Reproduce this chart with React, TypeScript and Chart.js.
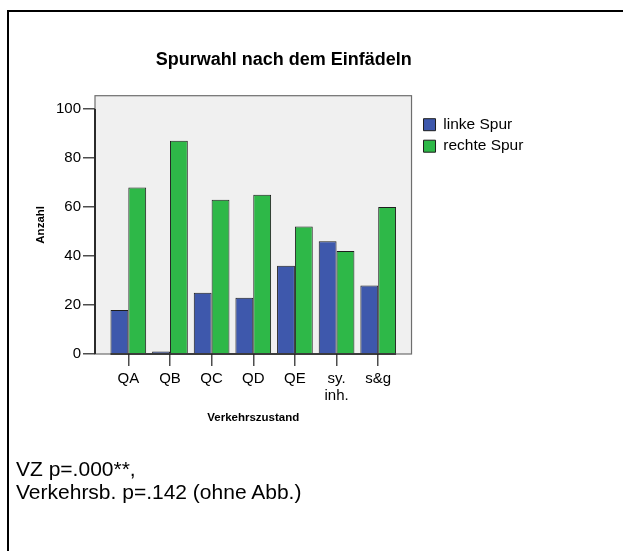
import React, { useEffect, useRef } from 'react';
import { Chart, registerables } from 'chart.js';

Chart.register(...registerables);

const FONT = "'Liberation Sans', Arial, Helvetica, sans-serif";

const CATEGORIES = ['QA', 'QB', 'QC', 'QD', 'QE', 'sy. inh.', 's&g'];
const LINKE_SPUR = [18, 1, 25, 23, 36, 46, 28];
const RECHTE_SPUR = [68, 87, 63, 65, 52, 42, 60];
const Y_TICKS = [0, 20, 40, 60, 80, 100];
const SERIES_NAMES = ['linke Spur', 'rechte Spur'];
const SERIES_COLORS = ['#3e58ac', '#2eb848'];
const TITLE = 'Spurwahl nach dem Einfädeln';
const X_TITLE = 'Verkehrszustand';
const Y_TITLE = 'Anzahl';
const FOOTER_LINES = ['VZ p=.000**,', 'Verkehrsb. p=.142 (ohne Abb.)'];

const plotDecor = {
  id: 'plotDecor',
  beforeDraw(chart: any) {
    const { ctx, chartArea: a } = chart;
    ctx.save();
    ctx.fillStyle = '#f0f0f0';
    ctx.fillRect(a.left, a.top, a.right - a.left, a.bottom - a.top);
    ctx.strokeStyle = '#6e6e6e';
    ctx.lineWidth = 1.2;
    ctx.strokeRect(a.left, a.top, a.right - a.left, a.bottom - a.top);
    ctx.restore();
  },
  afterDatasetsDraw(chart: any) {
    const { ctx, chartArea: a, scales } = chart;
    const y = scales.y;
    ctx.save();
    ctx.strokeStyle = '#2a2a2a';
    ctx.lineWidth = 2;
    ctx.beginPath();
    ctx.moveTo(a.left, y.getPixelForValue(Y_TICKS[0]));
    ctx.lineTo(a.left, y.getPixelForValue(Y_TICKS[Y_TICKS.length - 1]));
    ctx.stroke();
    const m0 = chart.getDatasetMeta(0).data;
    const m1 = chart.getDatasetMeta(1).data;
    if (m0.length && m1.length) {
      const first = m0[0];
      const last = m1[m1.length - 1];
      const x0 = first.x - first.width / 2;
      const x1 = last.x + last.width / 2;
      const yb = y.getPixelForValue(0);
      ctx.strokeStyle = '#1a1a1a';
      ctx.lineWidth = 1.5;
      ctx.beginPath();
      ctx.moveTo(x0, yb);
      ctx.lineTo(x1, yb);
      ctx.stroke();
    }
    ctx.restore();
  },
};

export default function App() {
  const ref = useRef<HTMLCanvasElement | null>(null);

  useEffect(() => {
    if (!ref.current) return;
    const tickFont = { family: FONT, size: 15, lineHeight: 1.15 };
    const titleFont = { family: FONT, size: 11.5, weight: 'bold' as const, lineHeight: 1.2 };
    const chart = new Chart(ref.current, {
      type: 'bar',
      data: {
        datasets: [LINKE_SPUR, RECHTE_SPUR].map((vals, k) => ({
          label: SERIES_NAMES[k],
          data: vals.map((v, i) => ({ x: i, y: v })),
          backgroundColor: SERIES_COLORS[k],
          borderColor: '#1e1e1e',
          borderWidth: 1,
          barPercentage: 1,
          categoryPercentage: 0.857,
        })),
      },
      options: {
        animation: false,
        responsive: false,
        devicePixelRatio: 1,
        layout: { padding: { left: 34, top: 49, right: 89.6, bottom: 117 } },
        plugins: {
          tooltip: { enabled: false },
          title: {
            display: true,
            text: TITLE,
            color: '#000',
            font: { family: FONT, size: 18, weight: 'bold', lineHeight: 1.2 },
            padding: { top: 0, bottom: 25.1 },
          },
          legend: {
            display: true,
            position: 'right',
            align: 'start',
            fullSize: false,
            title: { display: true, text: ' ', font: { size: 12, lineHeight: 1 }, padding: { top: 3.25, bottom: 0 } },
            labels: {
              boxWidth: 12,
              boxHeight: 12,
              padding: 6,
              color: '#000',
              font: { family: FONT, size: 15.5 },
            },
          },
        },
        scales: {
          x: {
            type: 'linear',
            position: 'bottom',
            offset: false,
            min: -0.8,
            max: CATEGORIES.length - 0.2,
            afterBuildTicks: (s: any) => {
              s.ticks = CATEGORIES.map((_, i) => ({ value: i }));
            },
            afterFit: (s: any) => {
              s.height = 80;
            },
            grid: { display: true, offset: false, drawOnChartArea: false, drawTicks: true, tickLength: 12, color: '#4d4d4d', lineWidth: 1.5 },
            border: { display: false },
            ticks: {
              autoSkip: false,
              maxRotation: 0,
              padding: 4,
              color: '#000',
              font: tickFont,
              callback: (v: any) => {
                const c = CATEGORIES[Math.round(Number(v))];
                return c ? c.split(' ') : '';
              },
            },
            title: { display: true, text: X_TITLE, color: '#000', font: titleFont, padding: { top: 0, bottom: 9 } },
          },
          y: {
            type: 'linear',
            position: 'left',
            min: 0,
            max: 105.44,
            afterBuildTicks: (s: any) => {
              s.ticks = Y_TICKS.map((v) => ({ value: v }));
            },
            afterFit: (s: any) => {
              s.width = 61;
            },
            grid: { display: true, drawOnChartArea: false, drawTicks: true, tickLength: 12, color: '#4d4d4d', lineWidth: 1.5 },
            border: { display: false },
            ticks: { padding: 2, color: '#000', font: { family: FONT, size: 15 } },
            title: { display: true, text: Y_TITLE, color: '#000', font: titleFont, padding: { top: 0, bottom: 0 } },
          },
          padR1: {
            type: 'linear',
            axis: 'y',
            position: 'right',
            display: false,
            weight: 0,
            afterFit: (s: any) => {
              s.width = 6;
            },
          },
          padR2: {
            type: 'linear',
            axis: 'y',
            position: 'right',
            display: false,
            weight: 2000,
            afterFit: (s: any) => {
              const lw = s.chart.legend ? s.chart.legend.width : 0;
              s.width = Math.max(0, 533.4 - 418 - lw);
            },
          },
        } as any,
      },
      plugins: [plotDecor],
    });
    return () => chart.destroy();
  }, []);

  return (
    <div
      style={{
        position: 'fixed',
        left: 0,
        top: 0,
        width: 623,
        height: 551,
        overflow: 'hidden',
        background: '#fff',
      }}
    >
      <div
        style={{
          position: 'absolute',
          left: 7,
          top: 10,
          width: 700,
          height: 700,
          border: '2px solid #000',
          boxSizing: 'border-box',
        }}
      />
      <canvas ref={ref} width={623} height={551} style={{ position: 'absolute', left: 0, top: 0, display: 'block' }} />
      <div
        style={{
          position: 'absolute',
          left: 16,
          top: 457,
          fontFamily: FONT,
          fontSize: 21,
          lineHeight: '23px',
          color: '#000',
          whiteSpace: 'pre',
        }}
      >
        {FOOTER_LINES.map((l, i) => (
          <div key={i}>{l}</div>
        ))}
      </div>
    </div>
  );
}
